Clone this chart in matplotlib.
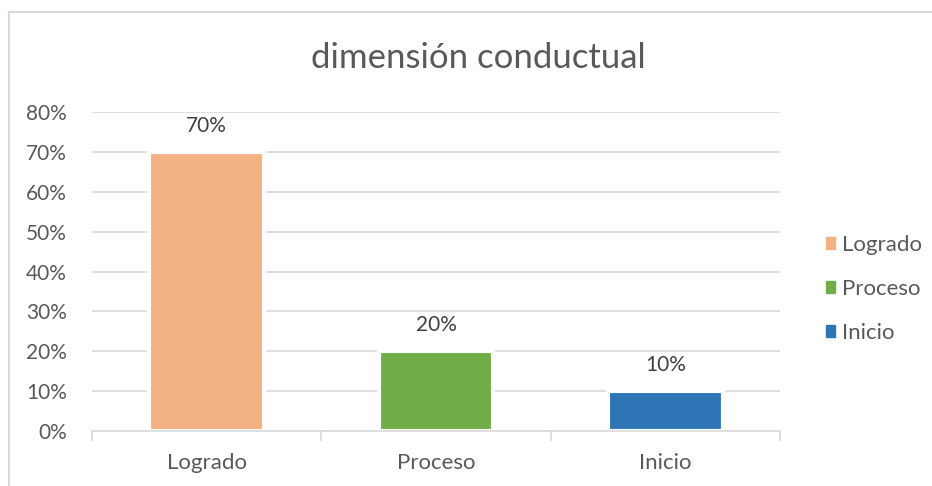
import matplotlib.pyplot as plt
from matplotlib.patches import Rectangle
from matplotlib.lines import Line2D
from matplotlib.ticker import PercentFormatter

categorias = ['Logrado', 'Proceso', 'Inicio']
valores = [0.70, 0.20, 0.10]
etiquetas = ['70%', '20%', '10%']
colores = ['#F4B183', '#70AD47', '#2E75B6']

plt.rcParams['font.family'] = ['Lato', 'DejaVu Sans']
gris = '#595959'

fig = plt.figure(figsize=(9.32, 4.86), dpi=100)
ax = fig.add_axes([92 / 932, 1 - 431 / 486, 688 / 932, 319 / 486])

x = range(len(categorias))
barras = ax.bar(x, valores, width=0.5, color=colores, edgecolor='white',
                linewidth=3, zorder=3)
for b, t in zip(barras, etiquetas):
    ax.text(b.get_x() + b.get_width() / 2, b.get_height() + 0.065, t,
            ha='center', va='center', fontsize=15, color='#404040')

ax.set_xlim(-0.5, 2.5)
ax.set_ylim(0, 0.8)
ax.set_yticks([i / 10 for i in range(9)])
ax.yaxis.set_major_formatter(PercentFormatter(1.0, decimals=0))
ax.set_xticks(list(x))
ax.set_xticklabels(categorias)
ax.set_xticks([-0.5, 0.5, 1.5, 2.5], minor=True)
ax.tick_params(axis='x', which='major', length=0, pad=16, labelsize=16, labelcolor=gris)
ax.tick_params(axis='x', which='minor', length=7, width=1.2, color='#d9d9d9')
ax.tick_params(axis='y', length=0, pad=18, labelsize=15, labelcolor=gris)
ax.grid(axis='y', color='#d9d9d9', linewidth=1.2, zorder=0)
for s in ['top', 'right', 'left']:
    ax.spines[s].set_visible(False)
ax.spines['bottom'].set_color('#d9d9d9')
ax.spines['bottom'].set_linewidth(1.2)
ax.spines['bottom'].set_zorder(4)

fig.text(478 / 932, 1 - 58 / 486, 'dimensión conductual', ha='center', va='center',
         fontsize=25, color=gris)

handles = [Rectangle((0, 0), 1, 1, color=c) for c in colores]
fig.legend(handles, categorias, loc='center left', bbox_to_anchor=(826 / 932, 1 - 289 / 486),
           frameon=False, fontsize=16, labelcolor=gris, handlelength=0.4, handleheight=0.4,
           handletextpad=0.3, labelspacing=1.08, borderpad=0, borderaxespad=0)

# marco del grafico: solo borde superior e izquierdo visibles
fig.lines.append(Line2D([9 / 932, 9 / 932], [0, 1 - 12 / 486], transform=fig.transFigure,
                        color='#d9d9d9', linewidth=1.5))
fig.lines.append(Line2D([9 / 932, 1], [1 - 12 / 486, 1 - 12 / 486], transform=fig.transFigure,
                        color='#d9d9d9', linewidth=1.5))

fig.savefig('out.png', dpi=100)
